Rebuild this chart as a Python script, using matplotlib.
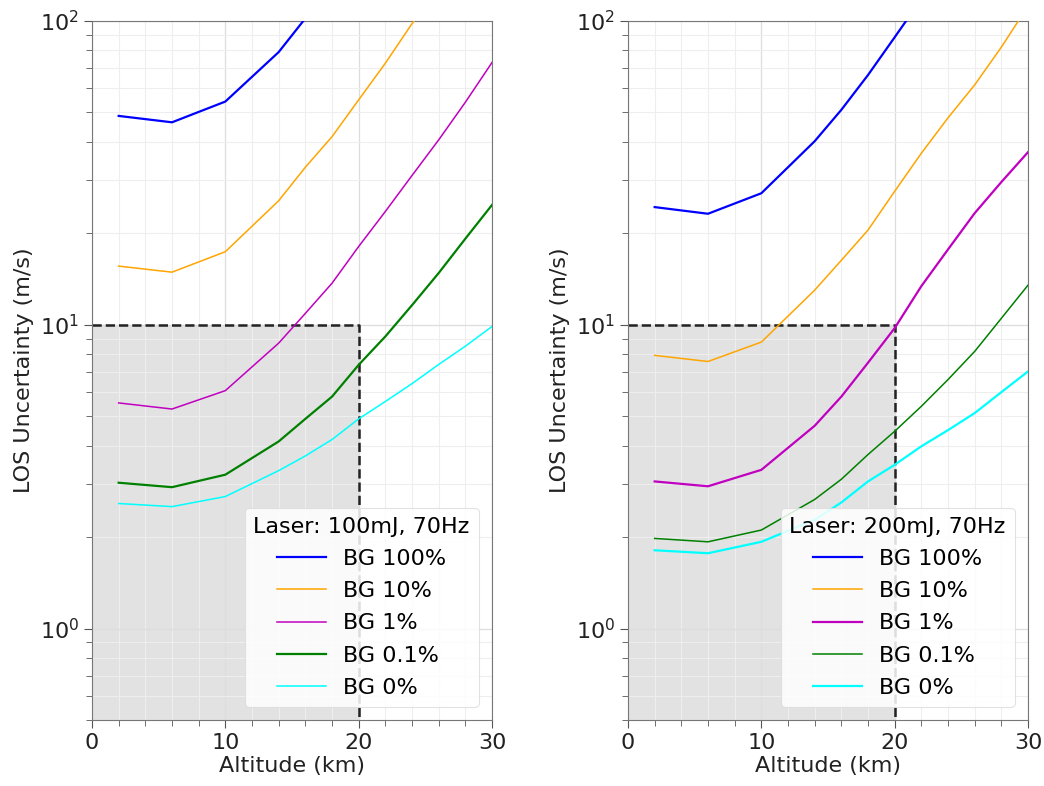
import numpy as np
import matplotlib
matplotlib.use("Agg")
import matplotlib.pyplot as plt
from matplotlib.ticker import MultipleLocator, LogLocator

# ---- data ----
alt = [2, 6, 10, 14, 16, 18, 20, 22, 24, 26, 28, 30]
labels = ["BG 100%", "BG 10%", "BG 1%", "BG 0.1%", "BG 0%"]
colors = ["#0000ff", "orange", "#c000c0", "green", "cyan"]

# 100 mJ
l_bg100 = [48.7, 46.4, 54.3, 79.0, 102.0, 130.0]
l_bg10 = [15.6, 14.9, 17.4, 25.6, 33.0, 41.6, 55.0, 72.6, 98.0, 128.0]
l_bg1 = [5.53, 5.28, 6.07, 8.7, 10.9, 13.7, 18.1, 23.6, 31.0, 40.6, 54.0, 73.0]
l_bg01 = [3.02, 2.92, 3.21, 4.13, 4.9, 5.8, 7.38, 9.15, 11.6, 14.8, 19.2, 24.8]
l_bg0 = [2.58, 2.52, 2.72, 3.31, 3.7, 4.19, 4.9, 5.59, 6.4, 7.4, 8.5, 9.87]

# 200 mJ
r_bg100 = [24.4, 23.2, 27.1, 40.2, 51.0, 66.4, 88.4, 118.0]
r_bg10 = [7.93, 7.57, 8.77, 13.0, 16.3, 20.5, 27.5, 36.7, 48.0, 61.6, 82.0, 112.0]
r_bg1 = [3.05, 2.94, 3.33, 4.65, 5.8, 7.5, 9.75, 13.4, 17.7, 23.3, 29.5, 37.0]
r_bg01 = [1.98, 1.93, 2.11, 2.66, 3.1, 3.74, 4.46, 5.39, 6.6, 8.17, 10.5, 13.5]
r_bg0 = [1.81, 1.77, 1.93, 2.28, 2.6, 3.05, 3.46, 3.98, 4.5, 5.12, 6.0, 7.02]

panels = [
    ("Laser: 100mJ, 70Hz", [l_bg100, l_bg10, l_bg1, l_bg01, l_bg0], [1.6, 1.1, 1.1, 1.6, 1.1]),
    ("Laser: 200mJ, 70Hz", [r_bg100, r_bg10, r_bg1, r_bg01, r_bg0], [1.6, 1.1, 1.6, 1.1, 1.6]),
]

req_alt = 20
req_unc = 10

fig = plt.figure(figsize=(10.44, 7.86), dpi=100)
lefts = [92 / 1044, 628 / 1044]
for (title, series, lws), left in zip(panels, lefts):
    ax = fig.add_axes([left, 1 - 720 / 786, 400 / 1044, 699 / 786])
    ax.set_yscale("log")
    ax.set_xlim(0, 30)
    ax.set_ylim(0.5, 100)
    ax.fill_between([0, req_alt], [0.5, 0.5], [req_unc, req_unc], color="#e2e2e2", zorder=0)
    ax.plot([0, req_alt, req_alt], [req_unc, req_unc, 0.5], ls="--", color="#222222", lw=1.8, zorder=1)
    for vals, lab, col, lw in zip(series, labels, colors, lws):
        ax.plot(alt[:len(vals)], vals, color=col, lw=lw, label=lab, zorder=3)
    ax.xaxis.set_major_locator(MultipleLocator(10))
    ax.xaxis.set_minor_locator(MultipleLocator(2))
    ax.yaxis.set_major_locator(LogLocator(base=10))
    ax.yaxis.set_minor_locator(LogLocator(base=10, subs=np.arange(2, 10)))
    ax.grid(True, which="major", color="#dddddd", lw=0.9, zorder=0.5)
    ax.grid(True, which="minor", color="#eeeeee", lw=0.8, zorder=0.5)
    ax.set_axisbelow(True)
    for sp in ax.spines.values():
        sp.set_color("#777777")
    ax.tick_params(which="both", colors="#555555", labelcolor="#222222", labelsize=16)
    ax.tick_params(which="major", length=6)
    ax.tick_params(which="minor", length=4)
    ax.set_xlabel("Altitude (km)", fontsize=16, color="#222222", labelpad=2)
    ax.set_ylabel("LOS Uncertainty (m/s)", fontsize=16, color="#222222", labelpad=4)
    leg = ax.legend(title=title, loc="lower right", fontsize=16, title_fontsize=16,
                    framealpha=0.85, edgecolor="#dddddd", handlelength=2.2,
                    labelspacing=0.55, borderaxespad=0.6)
    leg.get_frame().set_linewidth(0.8)

fig.savefig("out.png", dpi=100)
